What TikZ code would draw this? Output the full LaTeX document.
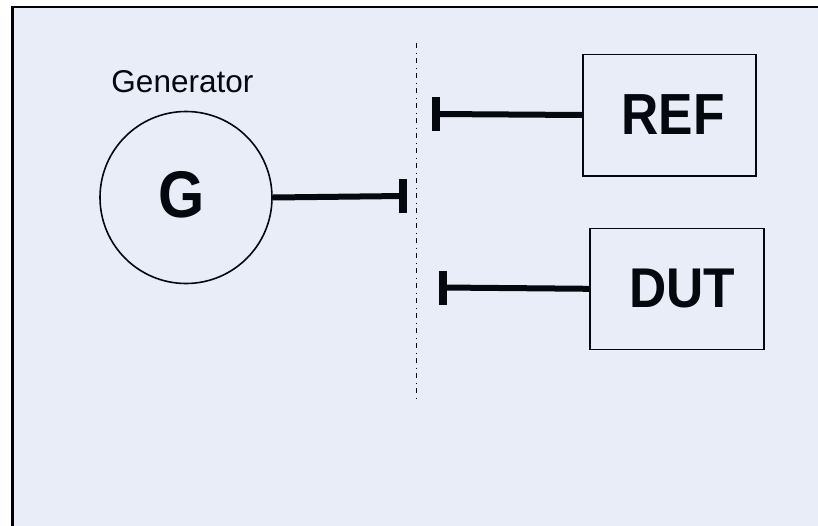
\documentclass[tikz,border=0pt]{standalone}
\usepackage{fontspec}
\setmainfont{Liberation Sans}
\definecolor{bgfill}{HTML}{E9EDF7}
\definecolor{ink}{HTML}{05080F}
\begin{document}
\begin{tikzpicture}[x=1pt,y=-1pt,
  conn/.style={draw=ink,line width=6pt},
  barnode/.style={draw=none,fill=ink,minimum width=8pt,minimum height=34pt,inner sep=0pt},
  boxnode/.style={draw=ink,line width=1.6pt,fill=none,inner sep=0pt},
  lbl/.style={text=ink,inner sep=0pt,anchor=center}]
\useasboundingbox (0,0) rectangle (818,525);
\fill[white] (0,0) rectangle (818,525);
\draw[black,line width=2.5pt,fill=bgfill] (12.5,7) rectangle (840,545);
% separator
\coordinate (st) at (416,43);
\coordinate (sb) at (416,398);
\draw[ink,line width=0.9pt,dash pattern=on 5pt off 4.5pt on 1pt off 4.5pt] (st) -- (sb);
% generator
\node[circle,draw=ink,line width=1.6pt,minimum size=172pt,inner sep=0pt] (G) at (186,197.5) {};
\node[lbl,font=\bfseries\fontsize{66}{66}\selectfont] (Gt) at (181.7,195) {\scalebox{0.9}[1]{G}};
\node[lbl,font=\fontsize{31.5}{31.5}\selectfont] (gen) at (182.4,82) {Generator};
\node[barnode] (gb) at (403,196) {};
\draw[conn] (G.east) -- (gb.center);
% REF
\node[boxnode,minimum width=173.3pt,minimum height=121.4pt] (ref) at (669.35,115) {};
\node[lbl,font=\bfseries\fontsize{58}{58}\selectfont] (reft) at (673,114.5) {\scalebox{0.89}[1]{REF}};
\node[barnode] (rb) at (436.2,114) {};
\draw[conn] (rb.center) -- (ref.west);
% DUT
\node[boxnode,minimum width=174pt,minimum height=121pt] (dut) at (677,288.8) {};
\node[lbl,font=\bfseries\fontsize{56}{56}\selectfont] (dutt) at (682.3,288.5) {\scalebox{0.92}[1]{DUT}};
\node[barnode] (db) at (443.3,287.5) {};
\draw[conn] (db.center) -- (dut.west);
\end{tikzpicture}
\end{document}
